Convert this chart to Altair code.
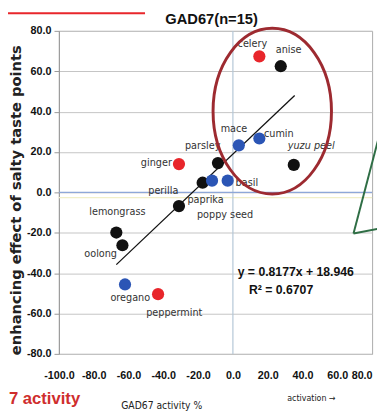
import altair as alt
import pandas as pd

# ---- data ----
pt_x = [15.2, 27.5, 3.4, 15.2, 35.0, -8.6, -31.0, -17.4, -12.0, -3.0, -31.0, -67.0, -63.5, -62.0, -43.0]
pt_y = [67.4, 62.5, 23.3, 26.7, 13.6, 14.5, 14.0, 4.8, 5.8, 5.8, -6.8, -19.9, -26.2, -45.6, -50.4]
pt_group = ["red", "black", "blue", "blue", "black", "black", "red", "black", "blue", "blue",
            "black", "black", "black", "blue", "red"]

label_text = ["celery", "anise", "mace", "cumin", "yuzu peel", "parsley", "ginger", "perilla",
              "paprika", "poppy seed", "basil", "lemongrass", "oolong", "oregano", "peppermint"]
label_x = [11.2, 32.0, 0.6, 26.4, 45.0, -17.4, -44.0, -40.0, -15.7, -4.5, 8.0, -66.4, -76.0, -59.0, -33.7]
label_y = [73.7, 70.3, 31.5, 29.1, 22.8, 22.8, 14.5, 0.5, -3.9, -11.2, 4.4, -9.7, -30.5, -52.4, -59.6]
label_style = ["normal"] * 4 + ["italic"] + ["normal"] * 10

trend_x = [-67.0, 35.5]
trend_y = [-35.8, 48.0]

x_ticks = [-100, -80, -60, -40, -20, 0, 20, 40, 60, 80]
y_ticks = [-80, -60, -40, -20, 0, 20, 40, 60, 80]

group_names = ["red", "black", "blue"]
group_colors = ["#e8262b", "#111111", "#2b55b5"]

NARROW = "Liberation Sans Narrow, DejaVu Sans Condensed, Liberation Sans, Arial, sans-serif"
SANS = "Liberation Sans, Arial, sans-serif"
WIDE = "DejaVu Sans, Verdana, sans-serif"

pts = pd.DataFrame({"x": pt_x, "y": pt_y, "g": pt_group})
labels = pd.DataFrame({"x": label_x, "y": label_y, "t": label_text, "s": label_style})
trend = pd.DataFrame({"x": trend_x, "y": trend_y})

xs = alt.Scale(domain=[-100, 80], nice=False, zero=False)
ys = alt.Scale(domain=[-80, 80], nice=False, zero=False)

hyphen_fmt = "datum.value < 0 ? '-' + format(-datum.value, '.1f') : format(datum.value, '.1f')"

x_axis = alt.Axis(values=x_ticks, labelExpr=hyphen_fmt, grid=False, ticks=False, domain=False,
                  labelFont=SANS, labelFontSize=11, labelFontWeight="bold", labelColor="#111",
                  labelFlush=False, labelOverlap=False, labelPadding=16, title=None,
                  labelAlign={"condition": {"test": "datum.value == 80", "value": "right"},
                              "value": "center"})
y_axis = alt.Axis(values=y_ticks, labelExpr=hyphen_fmt, grid=True, gridColor="#c4c4c4", gridWidth=1,
                  ticks=True, tickSize=5, tickColor="#999", domain=True, domainColor="#999",
                  labelFont=SANS, labelFontSize=11, labelFontWeight="bold", labelColor="#111",
                  labelOverlap=False, labelPadding=3, title=None)

X = alt.X("x:Q", scale=xs, axis=x_axis)
Y = alt.Y("y:Q", scale=ys, axis=y_axis)

grid_layer = alt.Chart(pts).mark_point(opacity=0).encode(x=X, y=Y)

vline = alt.Chart(pd.DataFrame({"x": [0]})).mark_rule(color="#b3c6d6", strokeWidth=1.2).encode(x=X)
hline = alt.Chart(pd.DataFrame({"y": [0]})).mark_rule(color="#8ea7d8", strokeWidth=1.2).encode(y=Y)
yline = alt.Chart(pd.DataFrame({"y": [-2.6]})).mark_rule(color="#f1efc8", strokeWidth=1.2).encode(y=Y)

trend_line = alt.Chart(trend).mark_line(color="#111", strokeWidth=1.3).encode(x=X, y=Y)

points = alt.Chart(pts).mark_circle(size=155, opacity=1).encode(
    x=X, y=Y,
    color=alt.Color("g:N", scale=alt.Scale(domain=group_names, range=group_colors), legend=None))

label_normal = alt.Chart(labels).transform_filter(alt.datum.s == "normal").mark_text(
    font=NARROW, fontSize=11, color="#333", align="center", baseline="middle").encode(
    x=X, y=Y, text="t:N")
label_italic = alt.Chart(labels).transform_filter(alt.datum.s == "italic").mark_text(
    font=NARROW, fontSize=11, fontStyle="italic", color="#333", align="center",
    baseline="middle").encode(x=X, y=Y, text="t:N")

ellipse = alt.Chart(pd.DataFrame({"a": [0]})).mark_point(
    shape="M-1,0A1,1.4,0,1,1,1,0A1,1.4,0,1,1,-1,0Z", size=14640, filled=False,
    stroke="#9d2a30", strokeWidth=3, opacity=1).encode(x=alt.value(218), y=alt.value(82))

green1 = alt.Chart(pd.DataFrame({"a": [0]})).mark_rule(color="#2f6e45", strokeWidth=2).encode(
    x=alt.value(301), y=alt.value(207), x2=alt.value(327), y2=alt.value(108))
green2 = alt.Chart(pd.DataFrame({"a": [0]})).mark_rule(color="#2f6e45", strokeWidth=2).encode(
    x=alt.value(301), y=alt.value(207), x2=alt.value(327), y2=alt.value(202))
red_top = alt.Chart(pd.DataFrame({"a": [0]})).mark_rule(color="#e8262b", strokeWidth=2).encode(
    x=alt.value(-52), y=alt.value(-18), x2=alt.value(88), y2=alt.value(-18))


def txt(s, x, y, **kw):
    return alt.Chart(pd.DataFrame({"t": [s]})).mark_text(**kw).encode(
        text="t:N", x=alt.value(x), y=alt.value(y))


title = txt("GAD67(n=15)", 156, -12, font=SANS, fontSize=15, fontWeight="bold", color="#111")
ytitle = txt("enhancing effect of salty taste points", -44, 173, font=WIDE, fontSize=15,
             fontWeight="bold", color="#222", angle=270)
eq1 = txt("y = 0.8177x + 18.946", 242, 246, font=SANS, fontSize=12.5, fontWeight="bold", color="#111")
eq2 = txt("R\u00b2 = 0.6707", 227, 265, font=SANS, fontSize=12.5, fontWeight="bold", color="#111")
red_bottom = txt("7 activity", -51, 376, font=SANS, fontSize=17, fontWeight="bold", color="#cf2d2d",
                 align="left")
xlab = txt("GAD67 activity %", 105, 383, font=NARROW, fontSize=10.5, color="#222")
act = txt("activation \u2192", 258, 375, font=NARROW, fontSize=9, color="#222")

chart = alt.layer(
    grid_layer, yline, vline, hline, trend_line, points, label_normal, label_italic, ellipse,
    green1, green2, red_top, title, ytitle, eq1, eq2, red_bottom, xlab, act
).properties(
    width=320, height=330,
    background="white",
    autosize=alt.AutoSizeParams(type="none"),
    padding={"left": 52, "top": 19, "right": 5, "bottom": 55},
).configure_view(stroke="#aaaaaa", strokeWidth=1).configure_axis(labelOverlap=False)

chart.save("out.html", embed_options={"renderer": "svg", "actions": False})
